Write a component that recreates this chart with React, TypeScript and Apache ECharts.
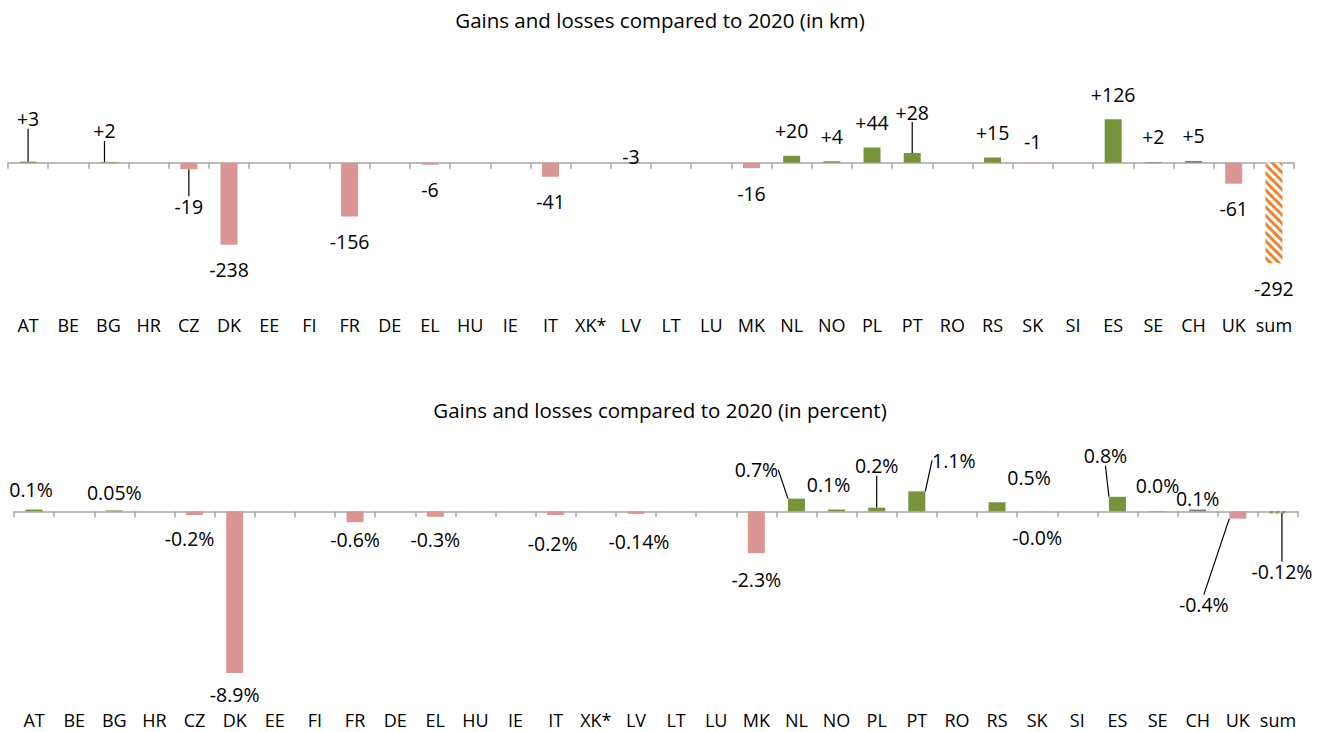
import React, { useEffect, useRef } from "react";
import * as echarts from "echarts";

const categories = ["AT","BE","BG","HR","CZ","DK","EE","FI","FR","DE","EL","HU","IE","IT","XK*","LV","LT","LU","MK","NL","NO","PL","PT","RO","RS","SK","SI","ES","SE","CH","UK","sum"];

const kmValues = [3,null,2,null,-19,-238,null,null,-156,null,-6,null,null,-41,null,-3,null,null,-16,20,4,44,28,null,15,-1,null,126,2,5,-61,-292];

const pctValues = [0.1,null,0.05,null,-0.2,-8.9,null,null,-0.6,null,-0.3,null,null,-0.2,null,-0.14,null,null,-2.3,0.7,0.1,0.2,1.1,null,0.5,-0.02,null,0.8,0.02,0.1,-0.4,-0.12];

const pctLabels = ["0.1%","","0.05%","","-0.2%","-8.9%","","","-0.6%","","-0.3%","","","-0.2%","","-0.14%","","","-2.3%","0.7%","0.1%","0.2%","1.1%","","0.5%","-0.0%","","0.8%","0.0%","0.1%","-0.4%","-0.12%"];

const titleKm = "Gains and losses compared to 2020 (in km)";
const titlePct = "Gains and losses compared to 2020 (in percent)";

const greyCats = ["SE", "CH"];
const GREEN = "#77933C";
const PINK = "#D99694";
const GREY = "#7F7F7F";
const ORANGE = "#F0822D";
const AXIS = "#A6A6A6";
const FONT = "Open Sans";

// label nudges (layout only): [dx, dy, leaderLine]
const kmShift: Record<string, [number, number, boolean]> = {
  AT: [0, -18, true],
  BG: [-4, -6, true],
  CZ: [0, 12, true],
  PT: [0, -16, true],
  LV: [0, -32, false],
  SK: [0, -47, false],
};
const pctShift: Record<string, [number, number, boolean]> = {
  AT: [-3, 5, false],
  BG: [0, 7, false],
  CZ: [-5, -1, false],
  DK: [0, -4, false],
  FR: [0, -8, false],
  EL: [0, -2, false],
  IT: [-3, 4, false],
  LV: [3, 3, false],
  MK: [0, 1, false],
  SK: [0, 1, false],
  NL: [-40, -4, true],
  NO: [-8, 0, false],
  PL: [0, -17, true],
  PT: [37, -6, true],
  RS: [32, 0, false],
  ES: [-12, -16, true],
  CH: [0, 14, false],
  UK: [-34, 61, true],
  sum: [4, 33, true],
};

function barColor(cat: string, v: number) {
  if (greyCats.includes(cat)) return GREY;
  return v >= 0 ? GREEN : PINK;
}

function buildData(values: (number | null)[], shift: Record<string, [number, number, boolean]>, sumStyle: any) {
  return values.map((v, i) => {
    if (v === null) return null;
    const cat = categories[i];
    const item: any = {
      value: v,
      itemStyle: cat === "sum" ? sumStyle : { color: barColor(cat, v) },
      label: { position: v < 0 ? "bottom" : "top" },
    };
    if (shift[cat] && shift[cat][2]) item.labelLine = { show: true };
    return item;
  });
}

export default function App() {
  const ref = useRef<HTMLDivElement>(null);
  useEffect(() => {
    if (!ref.current) return;
    const chart = echarts.init(ref.current, undefined, { renderer: "svg" });
    const axisFont = { fontFamily: FONT, fontSize: 18, color: "#000" };
    const dataFont = { fontFamily: FONT, fontSize: 19.5, color: "#000" };
    const titleFont = { fontFamily: FONT, fontSize: 20.5, color: "#000", fontWeight: "normal" };
    const option: any = {
      animation: false,
      backgroundColor: "#fff",
      title: [
        { text: titleKm, left: "center", top: 4, textStyle: titleFont },
        { text: titlePct, left: "center", top: 394, textStyle: titleFont },
      ],
      grid: [
        { left: 8, right: 26, top: 111, height: 155 },
        { left: 14, right: 22, top: 475, height: 218 },
      ],
      xAxis: [
        {
          type: "category", gridIndex: 0, data: categories,
          axisLine: { onZero: true, lineStyle: { color: AXIS, width: 1.5 } },
          axisTick: { show: true, length: 6, lineStyle: { color: AXIS, width: 1.5 } },
          axisLabel: { show: false },
        },
        {
          type: "category", gridIndex: 0, data: categories, position: "bottom",
          axisLine: { show: false }, axisTick: { show: false },
          axisLabel: { ...axisFont, margin: 50, interval: 0 },
        },
        {
          type: "category", gridIndex: 1, data: categories,
          axisLine: { onZero: true, lineStyle: { color: AXIS, width: 1.5 } },
          axisTick: { show: true, length: 6, lineStyle: { color: AXIS, width: 1.5 } },
          axisLabel: { show: false },
        },
        {
          type: "category", gridIndex: 1, data: categories, position: "bottom",
          axisLine: { show: false }, axisTick: { show: false },
          axisLabel: { ...axisFont, margin: 18, interval: 0 },
        },
      ],
      yAxis: [
        { type: "value", gridIndex: 0, min: -300, max: 150, show: false },
        { type: "value", gridIndex: 1, min: -10, max: 2, show: false },
      ],
      series: [
        {
          type: "bar", xAxisIndex: 0, yAxisIndex: 0, barWidth: 17,
          data: buildData(kmValues, kmShift, {
            color: "#fff",
            decal: { symbol: "rect", color: ORANGE, dashArrayX: [1, 0], dashArrayY: [3, 3], rotation: Math.PI / 4 },
          }),
          label: {
            show: true, distance: 15, ...dataFont,
            formatter: (p: any) => (p.value > 0 ? "+" + p.value : String(p.value)),
          },
          labelLine: { lineStyle: { color: "#000", width: 1.2 } },
          labelLayout: (p: any) => {
            const s = kmShift[categories[p.dataIndex]];
            return s ? { dx: s[0], dy: s[1] } : {};
          },
        },
        {
          type: "bar", xAxisIndex: 2, yAxisIndex: 1, barWidth: 17,
          data: buildData(pctValues, pctShift, {
            color: "rgba(255,255,255,0)", borderColor: GREEN, borderType: "dashed", borderWidth: 1,
          }),
          label: {
            show: true, distance: 15, ...dataFont,
            formatter: (p: any) => pctLabels[p.dataIndex],
          },
          labelLine: { lineStyle: { color: "#000", width: 1.2 } },
          labelLayout: (p: any) => {
            const s = pctShift[categories[p.dataIndex]];
            return s ? { dx: s[0], dy: s[1] } : {};
          },
        },
      ],
    };
    chart.setOption(option);
    return () => chart.dispose();
  }, []);
  return <div ref={ref} style={{ position: "fixed", left: 0, top: 0, width: 1320, height: 732 }} />;
}
